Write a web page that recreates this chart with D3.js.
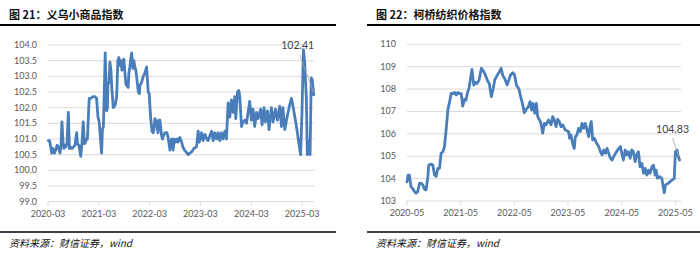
<!DOCTYPE html>
<html><head><meta charset="utf-8">
<script src="https://cdn.jsdelivr.net/npm/d3@7"></script>
<style>body{margin:0;background:#fff} svg{display:block}</style>
</head><body><svg id="c" width="700" height="254"></svg>
<script>
// ---------- DATA ----------
const titles = ["图 21：义乌小商品指数", "图 22：柯桥纺织价格指数"];
const sourceText = "资料来源：财信证券，wind";

const yiwuDates = ["2020-03-03","2020-03-12","2020-03-28","2020-04-05","2020-04-16","2020-04-26","2020-05-05","2020-05-15","2020-05-26","2020-06-02","2020-06-09","2020-06-17","2020-06-24","2020-07-01","2020-07-08","2020-07-15","2020-07-25","2020-08-02","2020-08-09","2020-08-20","2020-08-31","2020-09-11","2020-09-23","2020-09-29","2020-10-09","2020-10-22","2020-10-31","2020-11-09","2020-11-18","2020-11-25","2020-12-04","2020-12-09","2020-12-22","2021-01-04","2021-01-18","2021-02-01","2021-02-13","2021-02-23","2021-03-04","2021-03-13","2021-03-21","2021-03-27","2021-04-03","2021-04-16","2021-04-26","2021-05-02","2021-05-06","2021-05-13","2021-05-20","2021-05-27","2021-06-03","2021-06-13","2021-06-21","2021-06-28","2021-07-07","2021-07-16","2021-07-23","2021-07-31","2021-08-07","2021-08-14","2021-08-21","2021-08-28","2021-09-05","2021-09-12","2021-09-19","2021-09-28","2021-10-03","2021-10-10","2021-10-23","2021-11-01","2021-11-08","2021-11-15","2021-11-22","2021-11-30","2021-12-10","2021-12-18","2021-12-21","2022-01-02","2022-01-14","2022-01-26","2022-02-07","2022-02-13","2022-02-19","2022-02-26","2022-03-08","2022-03-18","2022-03-27","2022-04-01","2022-04-08","2022-04-15","2022-04-22","2022-04-30","2022-05-07","2022-05-14","2022-05-26","2022-06-02","2022-06-08","2022-06-19","2022-07-03","2022-07-12","2022-07-20","2022-07-25","2022-08-01","2022-08-08","2022-08-17","2022-08-26","2022-09-02","2022-09-13","2022-09-20","2022-10-04","2022-10-17","2022-10-26","2022-11-06","2022-11-16","2022-12-03","2022-12-15","2022-12-30","2023-01-13","2023-02-01","2023-02-13","2023-02-21","2023-03-09","2023-03-20","2023-04-02","2023-04-16","2023-04-25","2023-05-07","2023-05-20","2023-05-31","2023-06-12","2023-06-25","2023-07-06","2023-07-18","2023-07-30","2023-08-11","2023-08-23","2023-09-04","2023-09-16","2023-09-28","2023-10-10","2023-10-22","2023-11-03","2023-11-10","2023-11-22","2023-12-02","2023-12-09","2023-12-21","2024-01-01","2024-01-14","2024-01-26","2024-02-18","2024-03-02","2024-03-13","2024-03-25","2024-04-07","2024-04-18","2024-05-07","2024-05-17","2024-05-31","2024-06-10","2024-06-25","2024-07-06","2024-07-23","2024-08-04","2024-08-21","2024-09-04","2024-09-21","2024-10-03","2024-10-14","2024-10-27","2024-11-15","2024-12-02","2024-12-14","2024-12-25","2025-01-19","2025-02-04","2025-02-18","2025-02-28","2025-03-10","2025-03-19","2025-03-31","2025-04-07","2025-04-17","2025-04-27","2025-05-05","2025-05-12","2025-05-23"];
const yiwuValues = [100.95,100.95,100.55,100.7,100.55,100.65,100.8,100.75,100.55,100.75,101.55,100.9,100.7,100.8,100.75,100.85,101.85,100.7,100.75,100.7,100.75,100.8,101.2,100.85,100.8,100.45,100.85,101.55,100.85,100.9,101.0,101.0,102.3,102.3,102.35,102.35,102.3,101.7,101.55,101.0,100.55,101.3,101.4,103.75,101.9,102.0,102.8,102.8,103.45,103.2,102.6,102.0,102.05,102.1,102.35,103.5,103.6,103.35,103.5,103.2,103.5,103.55,103.1,102.75,102.7,102.65,103.1,103.3,103.75,103.25,103.5,103.3,103.2,102.9,102.5,102.45,102.7,102.8,103.0,103.1,103.3,102.9,102.5,102.45,101.7,101.25,101.2,101.3,101.65,101.6,101.45,101.2,101.6,101.6,101.1,101.0,101.1,101.2,101.2,101.05,100.8,100.65,100.95,101.0,100.65,101.0,100.9,101.0,100.9,101.05,100.9,100.75,100.65,100.6,100.5,100.55,100.6,100.7,100.75,101.25,100.9,101.2,100.95,101.15,101.0,100.95,101.1,101.25,100.95,101.2,101.0,101.2,100.95,101.2,101.0,101.25,101.0,102.15,101.7,102.25,101.85,102.35,101.65,102.5,102.55,102.35,101.4,101.55,101.6,101.5,102.2,101.6,101.95,101.4,101.85,101.65,101.95,101.45,102.0,101.55,101.9,101.3,102.0,101.55,101.95,101.6,102.05,101.4,102.0,101.3,101.75,102.1,102.3,102.05,101.4,100.9,100.5,101.9,103.85,103.45,102.3,100.5,100.95,100.5,102.95,102.9,102.41];

const keqiaoDates = ["2020-05-01","2020-05-09","2020-05-17","2020-05-28","2020-06-09","2020-06-21","2020-07-01","2020-07-13","2020-07-25","2020-08-05","2020-08-16","2020-08-28","2020-09-08","2020-09-20","2020-09-26","2020-10-12","2020-10-24","2020-11-04","2020-11-15","2020-11-27","2020-12-08","2020-12-19","2020-12-31","2021-01-11","2021-01-22","2021-02-03","2021-02-15","2021-02-26","2021-03-09","2021-03-21","2021-04-01","2021-04-12","2021-04-24","2021-05-05","2021-05-15","2021-05-28","2021-06-06","2021-06-18","2021-06-27","2021-07-06","2021-07-17","2021-07-29","2021-08-09","2021-08-20","2021-09-03","2021-09-19","2021-10-05","2021-10-16","2021-11-03","2021-11-12","2021-11-26","2021-12-08","2021-12-19","2022-01-04","2022-01-20","2022-01-31","2022-02-12","2022-02-26","2022-03-13","2022-03-25","2022-04-05","2022-04-21","2022-05-03","2022-05-15","2022-06-02","2022-06-13","2022-06-25","2022-07-08","2022-07-22","2022-08-05","2022-08-16","2022-08-27","2022-09-06","2022-09-17","2022-09-28","2022-10-07","2022-10-21","2022-10-30","2022-11-10","2022-11-22","2022-12-03","2022-12-20","2023-01-06","2023-01-17","2023-01-28","2023-02-09","2023-02-20","2023-03-03","2023-03-15","2023-03-26","2023-04-13","2023-05-05","2023-05-12","2023-05-21","2023-06-04","2023-06-13","2023-06-20","2023-07-01","2023-07-12","2023-07-24","2023-08-05","2023-08-16","2023-08-27","2023-09-08","2023-09-19","2023-09-30","2023-10-07","2023-10-16","2023-10-28","2023-11-10","2023-11-26","2023-12-08","2023-12-19","2023-12-30","2024-01-11","2024-01-22","2024-02-02","2024-02-14","2024-02-26","2024-03-07","2024-03-26","2024-04-11","2024-04-22","2024-05-01","2024-05-12","2024-05-24","2024-06-04","2024-06-15","2024-06-27","2024-07-08","2024-07-19","2024-07-31","2024-08-11","2024-08-22","2024-09-03","2024-09-15","2024-09-26","2024-10-07","2024-10-19","2024-10-30","2024-11-10","2024-11-22","2024-12-03","2024-12-14","2024-12-21","2024-12-30","2025-01-13","2025-01-29","2025-02-14","2025-02-23","2025-03-15","2025-04-08","2025-04-23","2025-05-01","2025-05-12","2025-05-20","2025-05-29"];
const keqiaoValues = [103.86,104.16,104.16,103.64,103.55,103.42,103.35,103.42,103.79,103.8,103.72,103.52,103.5,104.09,104.61,104.65,104.61,104.16,104.1,104.46,104.46,105.13,105.2,105.43,106.17,107.07,107.44,107.81,107.8,107.85,107.74,107.85,107.8,107.8,107.24,107.54,107.5,107.88,108.03,108.41,108.88,108.18,108.3,108.25,108.4,108.93,108.78,108.63,108.33,108.25,107.66,108.0,108.41,108.6,108.78,108.93,108.6,108.45,108.18,108.4,108.63,108.73,108.63,108.18,107.99,107.66,107.36,106.94,107.1,107.21,107.44,107.07,107.36,106.92,107.36,106.77,106.6,106.45,106.03,106.47,106.4,106.62,106.4,106.77,106.62,106.32,106.65,106.55,106.32,106.4,106.17,106.1,105.8,105.95,105.5,105.35,105.87,105.95,106.25,106.1,106.47,106.25,106.47,106.17,105.87,106.4,106.55,105.73,105.8,105.6,105.43,105.2,105.06,105.28,105.13,105.35,105.13,104.91,104.83,104.98,105.2,105.35,105.43,105.13,104.83,105.28,105.06,105.2,104.91,105.28,105.2,104.76,105.06,105.2,104.53,104.68,104.24,104.46,104.16,104.38,104.24,104.53,104.6,104.16,104.38,104.02,104.09,104.0,103.37,103.72,103.8,103.94,104.0,105.2,105.28,105.0,104.83];

const yiwuTicksX = ["2020-03-01","2021-03-01","2022-03-01","2023-03-01","2024-03-01","2025-03-01"];
const keqiaoTicksX = ["2020-05-01","2021-05-01","2022-05-01","2023-05-01","2024-05-01","2025-05-01"];
const yiwuTicksY = [99,99.5,100,100.5,101,101.5,102,102.5,103,103.5,104];
const keqiaoTicksY = [103,104,105,106,107,108,109,110];

// ---------- DRAW ----------
const parse = d3.timeParse("%Y-%m-%d");
const svg = d3.select("#c");
const numFont = "Lato, 'Open Sans', sans-serif";
const cjkFont = "'Noto Sans CJK SC', sans-serif";
const blue = "#4a7ebb";

function panel(o) {
  const g = svg.append("g");
  // title
  g.append("text").attr("x", o.titleX).attr("y", 19)
    .attr("font-family", cjkFont).attr("font-weight", "bold").attr("font-size", 11)
    .attr("fill", "#111").text(o.title);
  g.append("line").attr("x1", o.ruleX1).attr("x2", o.ruleX2).attr("y1", 25).attr("y2", 25)
    .attr("stroke", "#000").attr("stroke-width", 2);
  g.append("line").attr("x1", o.ruleX1).attr("x2", o.ruleX2).attr("y1", 232).attr("y2", 232)
    .attr("stroke", "#000").attr("stroke-width", 1.5);
  g.append("text").attr("x", o.titleX).attr("y", 247)
    .attr("font-family", cjkFont).attr("font-style", "italic").attr("font-size", 10)
    .attr("fill", "#111").text(sourceText);

  const dates = o.dates.map(parse);
  const x = d3.scaleTime().domain(o.xDomain.map(parse)).range(o.xRange);
  const y = d3.scaleLinear().domain(o.yDomain).range(o.yRange);

  // gridlines
  g.append("g").selectAll("line").data(o.yTicks).join("line")
    .attr("x1", o.xRange[0]).attr("x2", o.xRange[1])
    .attr("y1", d => y(d)).attr("y2", d => y(d))
    .attr("stroke", "#d9d9d9").attr("stroke-width", 1);

  // y labels
  g.append("g").selectAll("text").data(o.yTicks).join("text")
    .attr("x", o.xRange[0] - 11).attr("y", d => y(d) + 3)
    .attr("text-anchor", "end").attr("font-family", numFont).attr("font-size", 9)
    .attr("fill", "#595959").text(d => o.yFmt(d));

  // x axis ticks
  const xt = o.xTicks.map(parse);
  g.append("g").selectAll("line").data(xt).join("line")
    .attr("x1", d => x(d)).attr("x2", d => x(d))
    .attr("y1", o.yRange[0]).attr("y2", o.yRange[0] + 4)
    .attr("stroke", "#d9d9d9");
  g.append("g").selectAll("text").data(xt).join("text")
    .attr("x", d => x(d)).attr("y", o.yRange[0] + 15)
    .attr("text-anchor", "middle").attr("font-family", numFont).attr("font-size", 9)
    .attr("fill", "#595959").text(d => d3.timeFormat("%Y-%m")(d));

  // line
  const pts = dates.map((d, i) => [d, o.values[i]]);
  g.append("path").datum(pts)
    .attr("d", d3.line().x(d => x(d[0])).y(d => y(d[1])))
    .attr("fill", "none").attr("stroke", blue).attr("stroke-width", 2.8)
    .attr("stroke-linejoin", "round").attr("stroke-linecap", "round");

  // annotation of last value
  const last = pts[pts.length - 1];
  const lx = x(last[0]), ly = y(last[1]);
  g.append("line")
    .attr("x1", lx + o.lead[0]).attr("y1", ly + o.lead[1])
    .attr("x2", lx + o.lead[2]).attr("y2", ly + o.lead[3])
    .attr("stroke", "#a6a6a6").attr("stroke-width", 0.8);
  g.append("text").attr("x", lx + o.lab[0]).attr("y", ly + o.lab[1])
    .attr("text-anchor", "middle").attr("font-family", numFont).attr("font-size", 10.5)
    .attr("fill", "#404040").text(last[1].toFixed(2));
}

panel({
  title: titles[0], titleX: 9, ruleX1: 0, ruleX2: 336,
  dates: yiwuDates, values: yiwuValues,
  xDomain: ["2020-03-01", "2025-05-25"], xRange: [48, 314],
  yDomain: [99, 104], yRange: [201.7, 45],
  yTicks: yiwuTicksY, yFmt: d3.format(".1f"), xTicks: yiwuTicksX,
  lab: [-16, -46], lead: [-14, -40, 0, -2]
});
panel({
  title: titles[1], titleX: 376, ruleX1: 367, ruleX2: 700,
  dates: keqiaoDates, values: keqiaoValues,
  xDomain: ["2020-05-01", "2025-06-08"], xRange: [407, 681],
  yDomain: [103, 110], yRange: [201, 44.3],
  yTicks: keqiaoTicksY, yFmt: d3.format("d"), xTicks: keqiaoTicksX,
  lab: [-7, -27], lead: [-7, -22, -1, -4]
});
</script></body></html>
